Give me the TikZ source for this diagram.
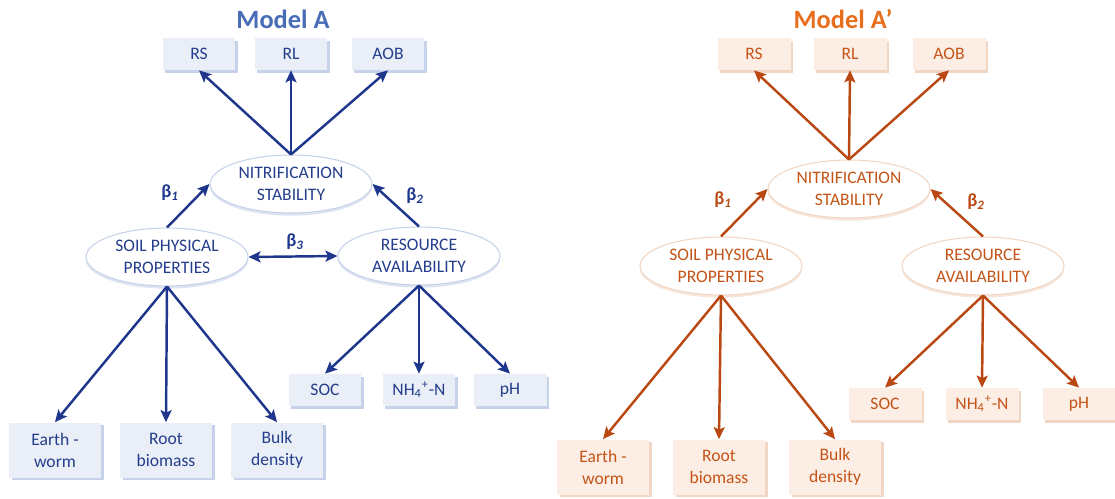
\documentclass[tikz,border=0pt]{standalone}
\usepackage{fontspec}
\setmainfont{Carlito}
\usetikzlibrary{arrows.meta}
\usetikzlibrary{shapes.geometric}
\usetikzlibrary{shadows}
\definecolor{navy}{RGB}{30,54,140}
\definecolor{navytext}{RGB}{36,62,140}
\definecolor{titleblue}{RGB}{72,108,182}
\definecolor{boxblue}{RGB}{233,238,247}
\definecolor{shadeblue}{RGB}{198,210,233}
\definecolor{rust}{RGB}{186,72,18}
\definecolor{rusttext}{RGB}{196,84,24}
\definecolor{titleorange}{RGB}{230,110,28}
\definecolor{boxorange}{RGB}{252,238,229}
\definecolor{shadeorange}{RGB}{242,214,196}
\tikzset{
    every node/.style={font=\fontsize{10}{12.5}\selectfont},
    obsbox/.style={minimum width=1.46cm, minimum height=0.64cm, inner sep=0pt},
    tallbox/.style={minimum width=1.84cm, minimum height=1.1cm, inner sep=0pt, align=center},
    latent/.style={ellipse, fill=white, minimum width=3.24cm, minimum height=1.16cm, inner sep=0pt, align=center, line width=0.6pt},
    blueset/.style={fill=boxblue, text=navytext, drop shadow={shadow xshift=1.5pt, shadow yshift=-1.5pt, fill=shadeblue, opacity=1}},
    orangeset/.style={fill=boxorange, text=rusttext, drop shadow={shadow xshift=1.5pt, shadow yshift=-1.5pt, fill=shadeorange, opacity=1}},
    bluelatent/.style={latent, draw=shadeblue, text=navytext, drop shadow={shadow xshift=0pt, shadow yshift=-1.5pt, fill=shadeblue, opacity=0.6}},
    orangelatent/.style={latent, draw=shadeorange, text=rusttext, drop shadow={shadow xshift=0pt, shadow yshift=-1.5pt, fill=shadeorange, opacity=0.6}},
    betalabel/.style={font=\fontsize{10.5}{12}\selectfont\bfseries},
}
\newcommand{\linkarrow}[1]{\draw[-{Stealth[length=2.4mm, width=2.2mm, inset=0.5mm]}, line width=1.4pt, #1]}
\newcommand{\pathcoef}[1]{β\textsubscript{\itshape #1}}

\begin{document}
\begin{tikzpicture}[x=0.02cm, y=-0.02cm]
    \useasboundingbox (0,0) rectangle (1115,498);

    % Model A
    \node[text=titleblue, font=\fontsize{15}{18}\selectfont\bfseries] (titleA) at (283,19) {Model A};
    \node[obsbox, blueset] (rsA) at (199,54) {RS};
    \node[obsbox, blueset] (rlA) at (291,54) {RL};
    \node[obsbox, blueset] (aobA) at (388,54) {AOB};
    \node[bluelatent] (nsA) at (291,184) {NITRIFICATION\\STABILITY};
    \node[bluelatent] (sppA) at (167,257) {SOIL PHYSICAL\\PROPERTIES};
    \node[bluelatent] (raA) at (419,256) {RESOURCE\\AVAILABILITY};
    \node[tallbox, blueset] (ewA) at (55,450) {Earth -\\worm};
    \node[tallbox, blueset] (rbA) at (166,450) {Root\\biomass};
    \node[tallbox, blueset] (bdA) at (277,450) {Bulk\\density};
    \node[obsbox, blueset] (socA) at (325,390) {SOC};
    \node[obsbox, blueset] (nhA) at (419,390) {NH\textsubscript{4}\textsuperscript{+}-N};
    \node[obsbox, blueset] (phA) at (510,390) {pH};

    % Draw paths A
    \linkarrow{navy} (nsA.north) -- (rsA.south);
    \linkarrow{navy} (nsA.north) -- (rlA.south);
    \linkarrow{navy} (nsA.north) -- (aobA.south);
    \linkarrow{navy} (sppA.north) -- (nsA.west);
    \linkarrow{navy} (raA.north) -- (nsA.east);
    \draw[{Stealth[length=2.4mm, width=2.2mm, inset=0.5mm]}-{Stealth[length=2.4mm, width=2.2mm, inset=0.5mm]}, line width=1.4pt, navy] (sppA.east) -- (raA.west);
    \linkarrow{navy} (sppA.south) -- (ewA.north);
    \linkarrow{navy} (sppA.south) -- (rbA.north);
    \linkarrow{navy} (sppA.south) -- (bdA.north);
    \linkarrow{navy} (raA.south) -- (socA.north);
    \linkarrow{navy} (raA.south) -- (nhA.north);
    \linkarrow{navy} (raA.south) -- (phA.north);

    \node[betalabel, text=navy] (b1A) at (170,193) {\pathcoef{1}};
    \node[betalabel, text=navy] (b2A) at (415,196) {\pathcoef{2}};
    \node[betalabel, text=navy] (b3A) at (295,242) {\pathcoef{3}};

    % Model A'
    \node[text=titleorange, font=\fontsize{15}{18}\selectfont\bfseries] (titleP) at (843,19) {Model A’};
    \node[obsbox, orangeset] (rsP) at (754,54) {RS};
    \node[obsbox, orangeset] (rlP) at (850,54) {RL};
    \node[obsbox, orangeset] (aobP) at (949,54) {AOB};
    \node[orangelatent] (nsP) at (849,189) {NITRIFICATION\\STABILITY};
    \node[orangelatent] (sppP) at (721,266) {SOIL PHYSICAL\\PROPERTIES};
    \node[orangelatent] (raP) at (983,266) {RESOURCE\\AVAILABILITY};
    \node[tallbox, orangeset] (ewP) at (603,467) {Earth -\\worm};
    \node[tallbox, orangeset] (rbP) at (719,467) {Root\\biomass};
    \node[tallbox, orangeset] (bdP) at (835,467) {Bulk\\density};
    \node[obsbox, orangeset] (socP) at (885,404) {SOC};
    \node[obsbox, orangeset] (nhP) at (982,404) {NH\textsubscript{4}\textsuperscript{+}-N};
    \node[obsbox, orangeset] (phP) at (1079,404) {pH};

    % Draw paths A'
    \linkarrow{rust} (nsP.north) -- (rsP.south);
    \linkarrow{rust} (nsP.north) -- (rlP.south);
    \linkarrow{rust} (nsP.north) -- (aobP.south);
    \linkarrow{rust} (sppP.north) -- (nsP.west);
    \linkarrow{rust} (raP.north) -- (nsP.east);
    \linkarrow{rust} (sppP.south) -- (ewP.north);
    \linkarrow{rust} (sppP.south) -- (rbP.north);
    \linkarrow{rust} (sppP.south) -- (bdP.north);
    \linkarrow{rust} (raP.south) -- (socP.north);
    \linkarrow{rust} (raP.south) -- (nhP.north);
    \linkarrow{rust} (raP.south) -- (phP.north);

    \node[betalabel, text=rust] (b1P) at (723,200) {\pathcoef{1}};
    \node[betalabel, text=rust] (b2P) at (976,202) {\pathcoef{2}};
\end{tikzpicture}
\end{document}
